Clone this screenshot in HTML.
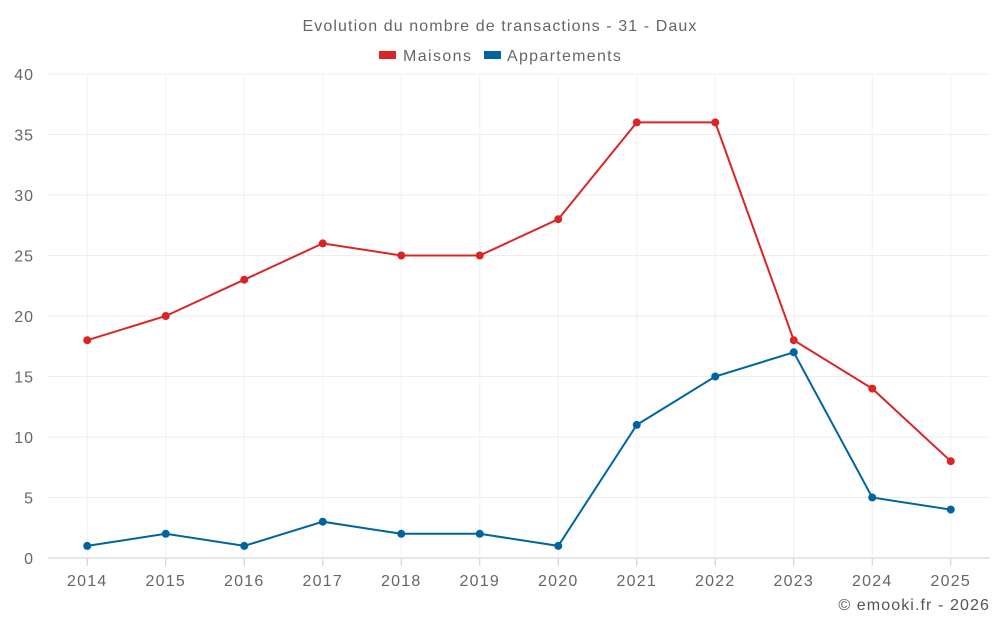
<!DOCTYPE html>
<html><head><meta charset="utf-8"><style>
body{margin:0;background:#fff;}
svg text{font-family:"Liberation Sans",sans-serif;}
</style></head><body>
<svg id="c" width="1000" height="625" viewBox="0 0 1000 625">
<text x="500" y="31" text-anchor="middle" font-size="16" letter-spacing="1.1" fill="#666">Evolution du nombre de transactions - 31 - Daux</text>
<g>
<g><rect x="379" y="51" width="17" height="8" fill="#dc2424"/><text x="403" y="61" font-size="16" letter-spacing="1.4" fill="#666">Maisons</text></g>
<g><rect x="484" y="51" width="17" height="8" fill="#0064a0"/><text x="507" y="61" font-size="16" letter-spacing="1.3" fill="#666">Appartements</text></g>
</g>
<g id="grid"></g>
<g id="axes"></g>
<g id="series"></g>
<text x="990" y="610" text-anchor="end" font-size="16" letter-spacing="1.1" fill="#555">© emooki.fr - 2026</text>
</svg>
<script>
const categories=["2014","2015","2016","2017","2018","2019","2020","2021","2022","2023","2024","2025"];
const maisons=[18,20,23,26,25,25,28,36,36,18,14,8];
const appartements=[1,2,1,3,2,2,1,11,15,17,5,4];
const yTicks=[0,5,10,15,20,25,30,35,40];
const L=48,R=990,T=74,B=558,yMax=40;
const NS="http://www.w3.org/2000/svg";
const bw=(R-L)/categories.length;
function x(i){return L+bw*(i+0.5);}
function y(v){return B-(B-T)*v/yMax;}
function mk(tag,attrs,parent){const e=document.createElementNS(NS,tag);for(const k in attrs)e.setAttribute(k,attrs[k]);parent.appendChild(e);return e;}
const grid=document.getElementById('grid'),axes=document.getElementById('axes'),ser=document.getElementById('series');
yTicks.forEach(v=>{
 const l=mk('line',{x1:L,x2:R,y1:y(v),y2:y(v),stroke:v===0?'#ccc':'#eee','stroke-width':1},grid);
 
 
 const t=mk('text',{x:L-14,y:y(v)+6,'text-anchor':'end','font-size':16,'letter-spacing':1,fill:'#666'},axes);
 t.textContent=v;
 
 
});
categories.forEach((c,i)=>{
 const l=mk('line',{x1:x(i),x2:x(i),y1:T,y2:B,stroke:'#f0f0f0','stroke-width':1},grid);
 
 
 const tk=mk('line',{x1:x(i),x2:x(i),y1:B,y2:B+8,stroke:'#ccc'},axes);
 
 
 const t=mk('text',{x:x(i),y:B+28,'text-anchor':'middle','font-size':16,'letter-spacing':1.2,fill:'#666'},axes);
 t.textContent=c;
 
 
});
[[maisons,'#dc2424','maisons'],[appartements,'#0064a0','appartements']].forEach(([d,col,n])=>{
 const p=mk('polyline',{points:d.map((v,i)=>x(i)+','+y(v)).join(' '),fill:'none',stroke:col,'stroke-width':2},ser);
 
 
 d.forEach((v,i)=>{
  const c=mk('circle',{cx:x(i),cy:y(v),r:4,fill:col},ser);
  
  
 });
});
</script>
</body></html>
